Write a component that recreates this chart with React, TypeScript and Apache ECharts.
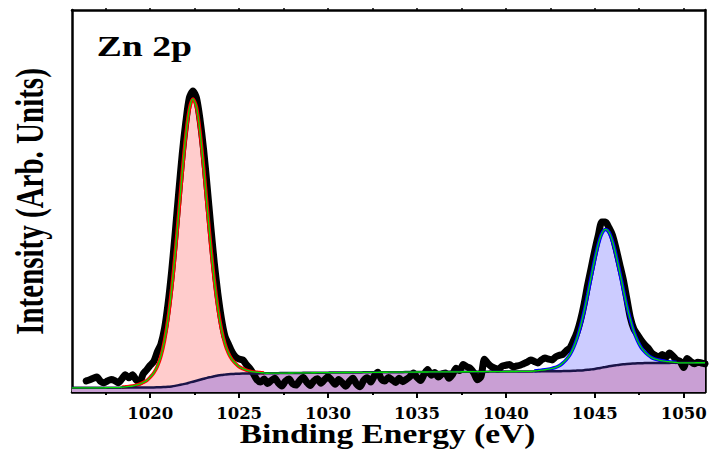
import React, { useEffect, useRef } from "react";
import * as echarts from "echarts";

// Energy grid (eV) shared by the background and the fit envelope
const GRID_START = 1015.6;
const STEP = 0.2;
const X_MIN = 1015.6;
const X_MAX = 1051.2;

// Shirley background, 1015.6 … 1051.2 eV in 0.2 eV steps
const background = [
  1.1, 1.1, 1.1, 1.1, 1.1, 1.1, 1.1, 1.1, 1.1, 1.1, 1.12, 1.12, 1.14, 1.14, 1.15, 1.15, 1.16, 1.16, 1.17, 1.17, 1.18, 1.18, 1.2, 1.2,
  1.22, 1.25, 1.3, 1.35, 1.45, 1.6, 1.8, 2.0, 2.2, 2.45, 2.7, 2.95, 3.2, 3.45, 3.7, 3.9, 4.1, 4.3, 4.45, 4.55, 4.65, 4.7, 4.75, 4.8,
  4.82, 4.83, 4.85, 4.86, 4.87, 4.88, 4.9, 4.91, 4.92, 4.93,
  4.94, 4.95, 4.96, 4.97, 4.98, 4.99, 5.0, 5.01, 5.02, 5.03,
  5.04, 5.05, 5.05, 5.06, 5.07, 5.08, 5.08, 5.09, 5.1, 5.1,
  5.11, 5.12, 5.12, 5.13, 5.14, 5.14, 5.15, 5.16, 5.16, 5.17,
  5.17, 5.18, 5.19, 5.19, 5.2, 5.2, 5.21, 5.22, 5.22, 5.23,
  5.23, 5.24, 5.24, 5.25, 5.26, 5.26, 5.27, 5.27, 5.28, 5.28,
  5.29, 5.29, 5.3, 5.3, 5.31, 5.31, 5.32, 5.32, 5.33, 5.33,
  5.34, 5.34, 5.35, 5.35, 5.36, 5.36, 5.37, 5.37, 5.38, 5.38,
  5.39, 5.39, 5.4, 5.4, 5.41, 5.42, 5.42, 5.43, 5.44,
  5.45, 5.47, 5.5, 5.52, 5.55, 5.6, 5.65, 5.72, 5.8, 5.92, 6.05, 6.2, 6.38, 6.55, 6.72, 6.88, 7.02, 7.15, 7.25, 7.33, 7.4, 7.45, 7.5, 7.53, 7.56, 7.58,
  7.6, 7.6, 7.61, 7.61, 7.62, 7.62, 7.63, 7.63, 7.64, 7.64, 7.65, 7.65, 7.65, 7.66, 7.66, 7.66,
];

// Measured Zn 2p spectrum, 1016.4 … 1051.2 eV in 0.2 eV steps
const SPECTRUM_START = 1016.4;
const spectrum = [
  2.9, 3.2, 3.6, 3.9, 2.8, 2.4, 2.9, 3.3, 3.0, 2.4,
  3.4, 4.5, 3.7, 4.5, 3.2, 2.6, 4.7, 5.8, 7.0, 8.0,
  10.5, 12.5, 16.5, 23.0, 31.4, 41.4, 52.1, 62.3, 70.6, 77.0,
  78.8, 77.0, 71.3, 63.5, 53.8, 43.5, 33.9, 25.8, 19.3, 14.6,
  12.5, 10.5, 9.2, 8.6, 8.4, 7.2, 6.2, 4.8, 3.2, 2.6,
  3.4, 2.2, 3.0, 3.6, 2.4, 1.6, 2.8, 3.4, 2.2, 1.8,
  3.0, 3.8, 2.6, 1.7, 2.9, 3.5, 2.3, 3.2, 4.0, 3.1,
  2.0, 3.3, 2.4, 1.5, 2.8, 3.6, 2.1, 1.4, 3.0, 3.7,
  2.6, 4.2, 5.2, 3.4, 2.9, 3.8, 3.2, 2.5, 3.6, 2.7,
  3.3, 4.0, 5.0, 3.8, 3.0, 4.6, 5.9, 4.4, 5.1, 3.9,
  4.7, 5.0, 3.6, 4.6, 6.2, 5.6, 7.2, 6.6, 6.2, 5.0,
  3.2, 4.0, 8.6, 7.4, 6.6, 6.2, 6.0, 6.8, 7.0, 7.2,
  6.6, 6.8, 7.0, 7.4, 7.8, 8.4, 8.0, 7.6, 8.4, 8.9,
  8.6, 8.4, 9.2, 9.6, 9.8, 10.8, 11.5, 13.4, 15.6, 18.8,
  23.0, 28.0, 32.5, 37.0, 41.0, 44.5, 44.5, 43.0, 41.0, 37.5,
  33.5, 29.5, 24.5, 19.5, 16.5, 15.0, 13.6, 12.4, 11.5, 10.2,
  9.6, 9.2, 9.8, 9.0, 10.2, 9.4, 8.4, 8.0, 6.4, 8.8,
  8.0, 7.4, 7.8, 7.6, 7.4,
];

// Zn 2p3/2 component (above background), 1018.4 … 1026.4 eV
const PEAK1_START = 1018.4;
const peak1 = [
  0.1, 0.2, 0.3, 0.4, 0.6, 0.9, 1.3, 1.8, 2.7, 3.8, 5.5, 8.1, 12.1, 17.8, 25.3, 34.5, 44.9, 55.5, 64.9, 71.6,
  74.0,
  71.6, 64.9, 55.5, 44.9, 34.5, 25.3, 17.8, 12.1, 8.1, 5.5, 3.8, 2.7, 1.8, 1.3, 0.9, 0.6, 0.4, 0.3, 0.2, 0.1,
];

// Zn 2p1/2 component (above background), 1041.6 … 1049.6 eV
const PEAK2_START = 1041.6;
const peak2 = [
  0.1, 0.2, 0.3, 0.4, 0.55, 0.75, 1.0, 1.4, 2.1, 3.0, 4.2, 6.0, 8.4, 11.6, 15.3, 19.7, 24.3, 28.7, 32.5, 35.1,
  36.0,
  35.1, 32.5, 28.7, 24.3, 19.7, 15.3, 11.6, 8.4, 6.0, 4.2, 3.0, 2.1, 1.4, 1.0, 0.75, 0.55, 0.4, 0.3, 0.2, 0.1,
];

const majorTicks = [1020, 1025, 1030, 1035, 1040, 1045, 1050];
const minorTicks = [1017.5, 1022.5, 1027.5, 1032.5, 1037.5, 1042.5, 1047.5];
const topTicks = [1017.5, 1020, 1022.5, 1025, 1027.5, 1030, 1032.5, 1035, 1037.5, 1040, 1042.5, 1045, 1047.5, 1050];

const energyAt = (start: number, i: number) => Math.round((start + i * STEP) * 10) / 10;
const gridIndex = (e: number) => Math.round((e - GRID_START) / STEP);

const SERIF = '"Liberation Serif", "Times New Roman", serif';

export default function App() {
  const ref = useRef<HTMLDivElement>(null);

  useEffect(() => {
    if (!ref.current) return;
    const chart = echarts.init(ref.current, undefined, { renderer: "svg" });

    const p1Off = gridIndex(PEAK1_START);
    const p2Off = gridIndex(PEAK2_START);

    const bgPts = background.map((b, i) => [energyAt(GRID_START, i), b]);
    const envelopePts = background.map((b, i) => {
      let v = b;
      const j1 = i - p1Off;
      const j2 = i - p2Off;
      if (j1 >= 0 && j1 < peak1.length) v += peak1[j1];
      if (j2 >= 0 && j2 < peak2.length) v += peak2[j2];
      return [energyAt(GRID_START, i), v];
    });
    const peak1Pts = peak1.map((c, j) => [energyAt(PEAK1_START, j), background[j + p1Off] + c]);
    const peak2Pts = peak2.map((c, j) => [energyAt(PEAK2_START, j), background[j + p2Off] + c]);
    const spectrumPts = spectrum.map((v, i) => [energyAt(SPECTRUM_START, i), v]);

    const hidden = { width: 0, opacity: 0 };
    const base = { type: "line", showSymbol: false, silent: true, xAxisIndex: 0, yAxisIndex: 0 };

    chart.setOption({
      animation: false,
      backgroundColor: "#ffffff",
      grid: { left: 72, right: 7, top: 10, bottom: 58 },
      xAxis: [
        {
          type: "value",
          position: "bottom",
          min: X_MIN,
          max: X_MAX,
          axisLine: { show: true, onZero: false, lineStyle: { color: "#000", width: 2.5 } },
          axisTick: { show: true, customValues: majorTicks, length: 6, inside: false, lineStyle: { color: "#000", width: 2 } },
          axisLabel: {
            show: true,
            customValues: majorTicks,
            formatter: (v: number) => String(v),
            margin: 13,
            fontFamily: "DejaVu Serif",
            fontWeight: "bold",
            fontSize: 16.5,
            color: "#000",
          },
          splitLine: { show: false },
        },
        {
          type: "value",
          position: "bottom",
          min: X_MIN,
          max: X_MAX,
          axisLine: { show: false, onZero: false },
          axisTick: { show: true, customValues: minorTicks, length: 3, inside: false, lineStyle: { color: "#000", width: 2 } },
          axisLabel: { show: false },
          splitLine: { show: false },
        },
        {
          type: "value",
          position: "top",
          min: X_MIN,
          max: X_MAX,
          axisLine: { show: true, onZero: false, lineStyle: { color: "#000", width: 2.5 } },
          axisTick: { show: true, customValues: topTicks, length: 2, inside: false, lineStyle: { color: "#000", width: 1.5 } },
          axisLabel: { show: false },
          splitLine: { show: false },
        },
      ],
      yAxis: [
        {
          type: "value",
          position: "left",
          min: 0,
          max: 100,
          axisLine: { show: true, onZero: false, lineStyle: { color: "#000", width: 2.5 } },
          axisTick: { show: false },
          axisLabel: { show: false },
          splitLine: { show: false },
        },
        {
          type: "value",
          position: "right",
          min: 0,
          max: 100,
          axisLine: { show: true, onZero: false, lineStyle: { color: "#000", width: 2.5 } },
          axisTick: { show: false },
          axisLabel: { show: false },
          splitLine: { show: false },
        },
      ],
      series: [
        // component fills (lower part is masked by the white underlay)
        { ...base, name: "Zn 2p3/2 fill", data: peak1Pts, smooth: 0.3, lineStyle: hidden, areaStyle: { color: "#ffcccc", opacity: 1 } },
        { ...base, name: "Zn 2p1/2 fill", data: peak2Pts, smooth: 0.3, lineStyle: hidden, areaStyle: { color: "#ccccff", opacity: 1 } },
        { ...base, name: "underlay", data: bgPts, smooth: 0.3, lineStyle: hidden, areaStyle: { color: "#ffffff", opacity: 1 } },
        // measured spectrum
        {
          ...base,
          name: "Data",
          data: spectrumPts,
          smooth: 0.25,
          lineStyle: { color: "#000000", width: 7, cap: "round", join: "round" },
        },
        // translucent background region over the data
        { ...base, name: "Background fill", data: bgPts, smooth: 0.3, lineStyle: hidden, areaStyle: { color: "rgba(112,0,141,0.376)", opacity: 1 } },
        // fit curves
        { ...base, name: "Zn 2p3/2", data: peak1Pts, smooth: 0.3, lineStyle: { color: "#ff0000", width: 3.5 } },
        { ...base, name: "Zn 2p1/2", data: peak2Pts, smooth: 0.3, lineStyle: { color: "#0000ff", width: 3.5 } },
        { ...base, name: "Background", data: bgPts, smooth: 0.3, lineStyle: { color: "#1a1448", width: 2.5 } },
        { ...base, name: "Envelope", data: envelopePts, smooth: 0.3, lineStyle: { color: "#00e000", width: 1.3 } },
      ],
      graphic: [
        {
          type: "text",
          x: 96.7,
          y: 46.3,
          scaleX: 1.3,
          silent: true,
          style: {
            text: "Zn 2p",
            font: `bold 29px ${SERIF}`,
            fill: "#000",
            align: "left",
            textAlign: "left",
            verticalAlign: "middle",
            textVerticalAlign: "middle",
          },
        },
        {
          type: "text",
          x: 387.5,
          y: 434.5,
          scaleX: 1.24,
          silent: true,
          style: {
            text: "Binding Energy (eV)",
            font: `bold 27px ${SERIF}`,
            fill: "#000",
            align: "center",
            textAlign: "center",
            verticalAlign: "middle",
            textVerticalAlign: "middle",
          },
        },
        {
          type: "text",
          x: 29.4,
          y: 201.5,
          rotation: Math.PI / 2,
          scaleY: 1.39,
          silent: true,
          style: {
            text: "Intensity (Arb. Units)",
            font: `bold 29px ${SERIF}`,
            fill: "#000",
            align: "center",
            textAlign: "center",
            verticalAlign: "middle",
            textVerticalAlign: "middle",
          },
        },
      ],
    });

    return () => chart.dispose();
  }, []);

  return <div ref={ref} style={{ position: "fixed", left: 0, top: 0, width: 712, height: 450 }} />;
}
